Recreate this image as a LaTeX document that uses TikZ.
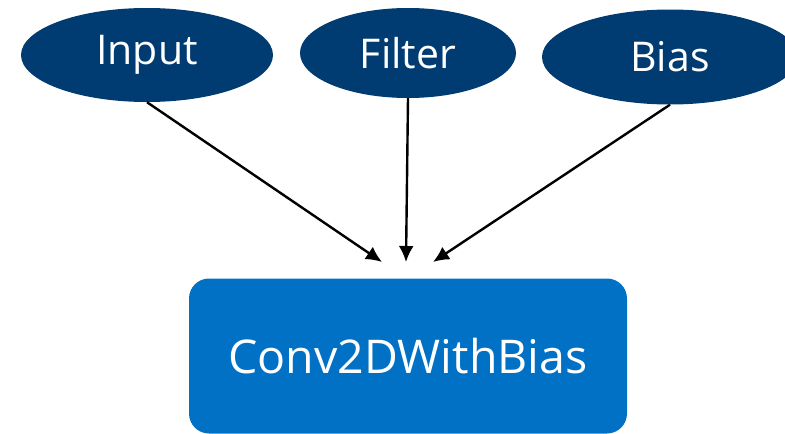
\documentclass[tikz,border=0pt]{standalone}
\usepackage{fontspec}
\setmainfont{Open Sans}
\usetikzlibrary{shapes.geometric,arrows.meta,positioning}
\definecolor{navy}{HTML}{003C71}
\definecolor{intelblue}{HTML}{0071C5}

\tikzset{
  inp/.style={ellipse, fill=navy, text=white, inner sep=0pt,
    font=\fontsize{41}{41}\selectfont},
  op/.style={rectangle, rounded corners=20pt, fill=intelblue, text=white,
    minimum width=438pt, minimum height=155pt, inner sep=0pt,
    font=\fontsize{46.5}{46.5}\selectfont},
  flow/.style={-{Latex[length=16pt,width=15pt]}, line width=2.4pt}
}

\begin{document}
\begin{tikzpicture}[x=1pt,y=-1pt]
 \clip (0,0) rectangle (785,434);
 \useasboundingbox (0,0) rectangle (785,434);

 % inputs
 \foreach \n/\x/\y/\w/\h/\t in {in/147/55/252/94/Input, filt/408/53/216/90/Filter, bias/670/57/256/95/Bias} {
   \node[inp, minimum width=\w pt, minimum height=\h pt] (\n) at (\x,\y) {\t};
 }

 % operation
 \node[op] (conv) at (408,356) {Conv2DWithBias};

 % arrow ends
 \coordinate (tin) at (382,262);
 \coordinate (tfilt) at (406,262);
 \coordinate (tbias) at (433,262);

 \foreach \n in {in, filt, bias}
   \draw[flow] (\n.south) -- (t\n);

\end{tikzpicture}
\end{document}
